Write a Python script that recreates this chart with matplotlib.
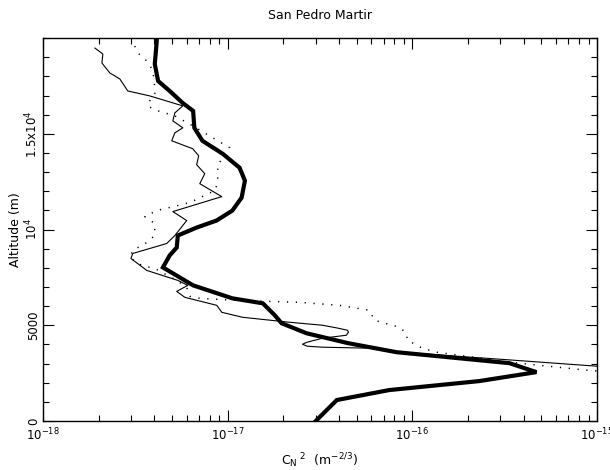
import numpy as np
import matplotlib
matplotlib.use("Agg")
import matplotlib.pyplot as plt
from matplotlib.ticker import FixedLocator, LogLocator, NullFormatter

plt.rcParams["font.family"] = ["DejaVu Sans"]
plt.rcParams["mathtext.default"] = "regular"

# thick solid profile: altitude (m), Cn2 (m^-2/3)
thick_alt = [0, 1094, 1615, 2083, 2552, 3021, 3594, 4062, 4583, 5104, 5521,
             6146, 6406, 7083, 8020, 8645, 9062, 9687, 10104, 10468, 10989,
             11666, 12551, 13228, 13957, 14634, 15312, 16197, 16614, 17238,
             17759, 18645, 19843, 20000]
thick_cn2 = [3.0e-17, 3.9e-17, 7.5e-17, 2.3e-16, 4.7e-16, 3.35e-16, 8.2e-17,
             4.5e-17, 2.67e-17, 1.96e-17, 1.8e-17, 1.55e-17, 1.06e-17, 6.5e-18,
             4.46e-18, 4.85e-18, 5.3e-18, 5.37e-18, 6.8e-18, 8.7e-18, 1.06e-17,
             1.19e-17, 1.24e-17, 1.16e-17, 9.4e-18, 7.3e-18, 6.6e-18, 6.5e-18,
             5.7e-18, 4.85e-18, 4.2e-18, 4.03e-18, 4.13e-18, 4.13e-18]

# thin solid profile (log10 of Cn2)
thin_alt = [19479, 19167, 18698, 18177, 17864, 17239, 16979, 16458, 16093,
            15677, 15312, 15051, 14634, 14218, 13853, 13385, 12916, 12395,
            11718, 10937, 10468, 9687, 9270, 8749, 8489, 7864, 7343, 7083,
            6770, 6458, 6041, 5677, 5416, 5156, 5000, 4843, 4739, 4635, 4479,
            4323, 4114, 4010, 3906, 3854, 3802, 3594, 3229, 2864, 2708]
thin_log = [-17.719, -17.676, -17.681, -17.638, -17.584, -17.541, -17.422,
            -17.243, -17.286, -17.297, -17.243, -17.286, -17.303, -17.189,
            -17.157, -17.168, -17.124, -17.151, -17.032, -17.297, -17.222,
            -17.286, -17.330, -17.514, -17.524, -17.438, -17.270, -17.216,
            -17.276, -17.232, -17.059, -17.032, -16.919, -16.665, -16.486,
            -16.400, -16.351, -16.346, -16.357, -16.486, -16.570, -16.595,
            -16.570, -16.486, -16.232, -16.070, -15.530, -15.005, -14.773]

# dotted profile (log10 of Cn2)
dot_alt = [19582, 19218, 18750, 18281, 17447, 17083, 16718, 16458, 16249,
           15937, 15416, 14791, 14270, 13853, 13437, 12447, 12030, 11406,
           10989, 10676, 10312, 9687, 9322, 8906, 8541, 8124, 7968, 7343,
           6979, 6510, 6406, 6302, 6197, 6041, 5781, 5260, 4896, 4583, 4218,
           3802, 3594, 3073, 2656, 2448]
dot_log = [-17.503, -17.486, -17.432, -17.405, -17.395, -17.395, -17.422,
           -17.432, -17.395, -17.286, -17.189, -17.081, -16.989, -17.005,
           -17.054, -17.054, -17.070, -17.205, -17.384, -17.449, -17.395,
           -17.395, -17.438, -17.514, -17.530, -17.465, -17.395, -17.276,
           -17.222, -17.205, -17.151, -16.951, -16.611, -16.395, -16.232,
           -16.205, -16.070, -16.032, -16.027, -15.946, -15.870, -15.476,
           -15.059, -14.773]

y_ticks = [0, 5000, 10000, 15000]
y_labels = ["0", "5000", "$10^4$", r"1.5x$10^4$"]

fig = plt.figure(figsize=(6.1, 4.7), dpi=100)
ax = fig.add_axes([0.0705, 0.1043, 0.9082, 0.8147])

ax.plot(10.0 ** np.array(thin_log), thin_alt, color="black", lw=0.8)
ax.plot(10.0 ** np.array(dot_log), dot_alt, color="black", lw=1.1,
        linestyle=(0, (0.8, 5)))
ax.plot(thick_cn2, thick_alt, color="black", lw=3.0, solid_joinstyle="miter")

ax.set_xscale("log")
ax.set_xlim(1e-18, 1e-15)
ax.set_ylim(0, 20000)

ax.xaxis.set_major_locator(LogLocator(base=10, numticks=10))
ax.xaxis.set_minor_locator(LogLocator(base=10, subs=np.arange(2, 10), numticks=20))
ax.xaxis.set_minor_formatter(NullFormatter())
ax.yaxis.set_major_locator(FixedLocator(y_ticks))
ax.set_yticklabels(y_labels, rotation=90, va="center")
ax.yaxis.set_minor_locator(FixedLocator(np.arange(0, 20001, 1000)))

ax.tick_params(which="both", direction="in", top=True, right=True,
               labelsize=8.5, width=0.8)
ax.tick_params(which="major", length=8)
ax.tick_params(which="minor", length=4)
ax.tick_params(axis="x", which="major", pad=4)
ax.tick_params(axis="y", which="major", pad=2)
for s in ax.spines.values():
    s.set_linewidth(1.0)

ax.set_xlabel(r"C$_N$$^{\ 2}$  (m$^{-2/3}$)", fontsize=9, labelpad=6)
ax.set_ylabel("Altitude (m)", fontsize=9, labelpad=1)
ax.set_title("San Pedro Martir", fontsize=9, pad=14)

fig.savefig("out.png", dpi=100)
